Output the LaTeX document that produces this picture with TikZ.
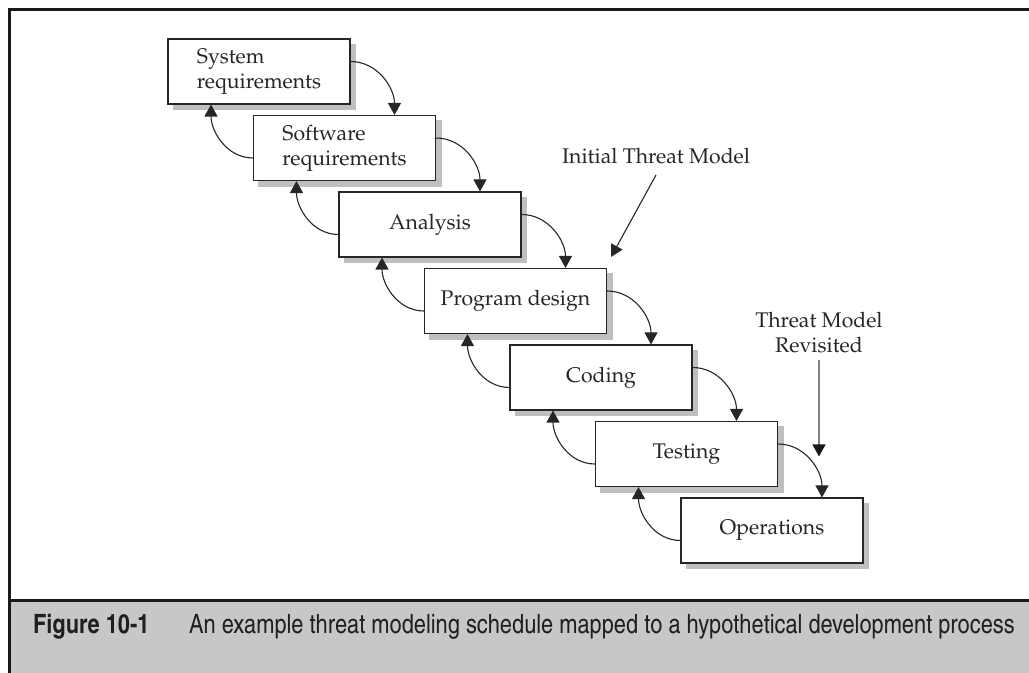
\documentclass[tikz,border=0pt]{standalone}
\usepackage[T1]{fontenc}
\usetikzlibrary{positioning,arrows.meta,backgrounds}

\newcommand{\phasefont}{\usefont{T1}{ppl}{m}{n}\fontsize{10.6}{12.5}\selectfont}
\newcommand{\figfont}{\usefont{T1}{phv}{bc}{n}\fontsize{13.3}{15}\selectfont}
\newcommand{\capfont}{\usefont{T1}{phv}{mc}{n}\fontsize{13.3}{15}\selectfont}

\begin{document}
\begin{tikzpicture}[x=0.5pt, y=-0.5pt,
  phase/.style={draw=black!85, line width=0.55pt, fill=white, minimum width=91pt, minimum height=32.5pt,
    align=left, font=\phasefont, text=black!85},
  flow/.style={-{Triangle[length=6pt, width=6.5pt]}, line width=0.55pt, black!85},
  note/.style={font=\phasefont, align=center, text=black!85}]

\useasboundingbox (0,0) rectangle (1029,673);

% frame and caption bar
\fill [black!22] (9,601) rectangle (1029,673);
\draw [line width=1.5pt, black!90] (9,673) -- (9,10) -- (1029,10);
\draw [line width=1.5pt, black!90] (9,600.5) -- (1029,600.5);

\node [anchor=west, font=\figfont, text=black!88] (fig_no) at (26,627) {Figure 10-1};
\node [anchor=west, font=\capfont, text=black!88] (fig_cap) at (182,627) {An example threat modeling schedule mapped to a hypothetical development process};

% phases
\node [phase] (sys_req) at (259,71.5) {System\\requirements};
\node [phase, below right=38.25pt and 42.75pt of sys_req.north west] (sw_req) {Software\\requirements};
\node [phase, below right=38.25pt and 42.75pt of sw_req.north west] (analysis) {Analysis};
\node [phase, below right=38.25pt and 42.75pt of analysis.north west] (prog_design) {Program design};
\node [phase, below right=38.25pt and 42.75pt of prog_design.north west] (coding) {Coding};
\node [phase, below right=38.25pt and 42.75pt of coding.north west] (testing) {Testing};
\node [phase, below right=38.25pt and 42.75pt of testing.north west] (operations) {Operations};

% shadows
\begin{scope}[on background layer]
  \foreach \p in {sys_req, sw_req, analysis, prog_design, coding, testing, operations}
    \fill [black!25] ([shift={(2.75pt,-2.75pt)}]\p.south west) rectangle ([shift={(2.75pt,-2.75pt)}]\p.north east);
\end{scope}

% forward
\draw [flow] ([yshift=5pt]sys_req.east) to[out=0, in=90] ([xshift=25pt]sw_req.north);
\draw [flow] ([yshift=5pt]sw_req.east) to[out=0, in=90] ([xshift=25pt]analysis.north);
\draw [flow] ([yshift=5pt]analysis.east) to[out=0, in=90] ([xshift=25pt]prog_design.north);
\draw [flow] ([yshift=5pt]prog_design.east) to[out=0, in=90] ([xshift=25pt]coding.north);
\draw [flow] ([yshift=5pt]coding.east) to[out=0, in=90] ([xshift=25pt]testing.north);
\draw [flow] ([yshift=5pt]testing.east) to[out=0, in=90] ([xshift=25pt]operations.north);

% back
\draw [flow] ([yshift=-5pt]sw_req.west) to[out=180, in=-90] ([xshift=-24pt]sys_req.south);
\draw [flow] ([yshift=-5pt]analysis.west) to[out=180, in=-90] ([xshift=-24pt]sw_req.south);
\draw [flow] ([yshift=-5pt]prog_design.west) to[out=180, in=-90] ([xshift=-24pt]analysis.south);
\draw [flow] ([yshift=-5pt]coding.west) to[out=180, in=-90] ([xshift=-24pt]prog_design.south);
\draw [flow] ([yshift=-5pt]testing.west) to[out=180, in=-90] ([xshift=-24pt]coding.south);
\draw [flow] ([yshift=-5pt]operations.west) to[out=180, in=-90] ([xshift=-24pt]testing.south);

% threat model notes
\node [note, above right=56pt and 24.5pt of prog_design.north east, anchor=center] (initial_tm) {Initial Threat Model};
\draw [flow] ([yshift=-2pt]initial_tm.south) -- ([xshift=2pt, yshift=5.5pt]prog_design.north east);

\node [note, above right=82.5pt and 23.5pt of operations.north, anchor=center] (revisited_tm) {Threat Model\\Revisited};
\coordinate [above right=20.5pt and 23.5pt of operations.north] (revisit_hit);
\draw [-{Triangle[length=6pt, width=6.5pt, black!90]}, line width=0.7pt, black!50] (revisited_tm.south) -- (revisit_hit);

\end{tikzpicture}
\end{document}
